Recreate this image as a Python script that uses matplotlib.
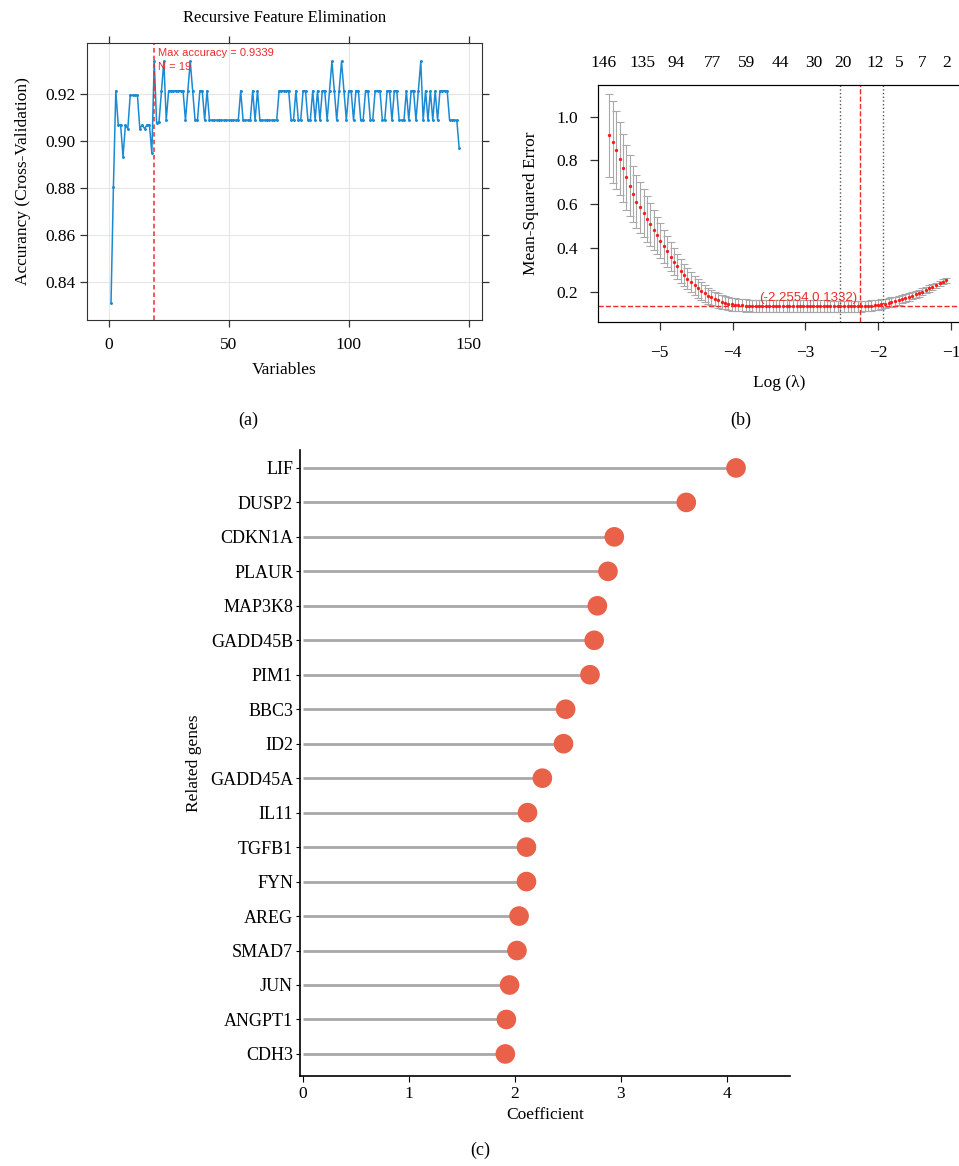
import numpy as np
import matplotlib.pyplot as plt

plt.rcParams['font.family'] = ['Liberation Serif', 'DejaVu Serif']
plt.rcParams['axes.unicode_minus'] = True

# ---------------- (a) recursive feature elimination ----------------
rfe_vars = list(range(1, 147))
rfe_acc = [
    0.8312, 0.8805, 0.9214, 0.9069, 0.9069, 0.8934, 0.9069, 0.9053, 0.9195, 0.9195,
    0.9195, 0.9195, 0.9053, 0.9069, 0.9053, 0.9069, 0.9069, 0.8948, 0.9339, 0.9075,
    0.9083, 0.9214, 0.9339, 0.9089, 0.9214, 0.9214, 0.9214, 0.9214, 0.9214, 0.9214,
    0.9214, 0.9089, 0.9214, 0.9339, 0.9214, 0.9089, 0.9089, 0.9214, 0.9214, 0.9089,
    0.9214, 0.9089, 0.9089, 0.9089, 0.9089, 0.9089, 0.9089, 0.9089, 0.9089, 0.9089,
    0.9089, 0.9089, 0.9089, 0.9089, 0.9214, 0.9089, 0.9089, 0.9089, 0.9089, 0.9214,
    0.9089, 0.9214, 0.9089, 0.9089, 0.9089, 0.9089, 0.9089, 0.9089, 0.9089, 0.9089,
    0.9214, 0.9214, 0.9214, 0.9214, 0.9214, 0.9089, 0.9089, 0.9214, 0.9089, 0.9089,
    0.9214, 0.9214, 0.9089, 0.9089, 0.9214, 0.9089, 0.9214, 0.9089, 0.9214, 0.9214,
    0.9089, 0.9214, 0.9339, 0.9214, 0.9089, 0.9214, 0.9339, 0.9214, 0.9089, 0.9214,
    0.9214, 0.9089, 0.9214, 0.9214, 0.9089, 0.9089, 0.9214, 0.9214, 0.9089, 0.9089,
    0.9214, 0.9214, 0.9214, 0.9089, 0.9089, 0.9214, 0.9214, 0.9089, 0.9214, 0.9214,
    0.9089, 0.9089, 0.9089, 0.9214, 0.9089, 0.9214, 0.9214, 0.9089, 0.9214, 0.9339,
    0.9089, 0.9214, 0.9089, 0.9214, 0.9089, 0.9214, 0.9089, 0.9214, 0.9214, 0.9214,
    0.9214, 0.9089, 0.9089, 0.9089, 0.9089, 0.8970,
]
best_n = 19
best_acc = 0.9339

# ---------------- (b) lasso cross-validation ----------------
log_lambda = [
    -5.69, -5.64, -5.60, -5.55, -5.50, -5.46, -5.41, -5.36, -5.32, -5.27,
    -5.22, -5.18, -5.13, -5.08, -5.04, -4.99, -4.94, -4.90, -4.85, -4.80,
    -4.76, -4.71, -4.66, -4.62, -4.57, -4.52, -4.48, -4.43, -4.38, -4.34,
    -4.29, -4.24, -4.20, -4.15, -4.10, -4.06, -4.01, -3.96, -3.92, -3.87,
    -3.82, -3.78, -3.73, -3.68, -3.64, -3.59, -3.54, -3.50, -3.45, -3.40,
    -3.36, -3.31, -3.26, -3.22, -3.17, -3.12, -3.08, -3.03, -2.98, -2.94,
    -2.89, -2.84, -2.80, -2.75, -2.70, -2.66, -2.61, -2.56, -2.52, -2.47,
    -2.42, -2.38, -2.33, -2.28, -2.24, -2.19, -2.14, -2.10, -2.05, -2.00,
    -1.96, -1.91, -1.86, -1.82, -1.77, -1.72, -1.68, -1.63, -1.58, -1.54,
    -1.49, -1.44, -1.40, -1.35, -1.30, -1.26, -1.21, -1.16, -1.12, -1.07,
]
cv_mse = [
    0.915, 0.885, 0.848, 0.807, 0.765, 0.723, 0.685, 0.647, 0.612, 0.586,
    0.560, 0.533, 0.508, 0.482, 0.458, 0.433, 0.408, 0.385, 0.360, 0.338,
    0.316, 0.296, 0.277, 0.260, 0.244, 0.229, 0.215, 0.203, 0.192, 0.182,
    0.174, 0.167, 0.160, 0.155, 0.150, 0.146, 0.143, 0.141, 0.139, 0.138,
    0.137, 0.137, 0.136, 0.136, 0.136, 0.136, 0.135, 0.135, 0.135, 0.135,
    0.135, 0.135, 0.135, 0.134, 0.134, 0.134, 0.134, 0.134, 0.134, 0.134,
    0.134, 0.134, 0.134, 0.134, 0.134, 0.1335, 0.1335, 0.1333, 0.1333, 0.1333,
    0.1333, 0.1332, 0.1332, 0.1332, 0.1335, 0.134, 0.135, 0.136, 0.138, 0.140,
    0.143, 0.146, 0.149, 0.153, 0.157, 0.161, 0.166, 0.171, 0.176, 0.182,
    0.188, 0.194, 0.201, 0.208, 0.215, 0.222, 0.230, 0.238, 0.245, 0.252,
]
cv_se = [
    0.190, 0.186, 0.178, 0.167, 0.157, 0.148, 0.140, 0.130, 0.122, 0.116,
    0.110, 0.104, 0.098, 0.091, 0.085, 0.080, 0.075, 0.070, 0.066, 0.062,
    0.058, 0.055, 0.052, 0.049, 0.046, 0.044, 0.042, 0.040, 0.038, 0.036,
    0.035, 0.034, 0.033, 0.032, 0.031, 0.030, 0.029, 0.029, 0.028, 0.028,
    0.028, 0.027, 0.027, 0.027, 0.027, 0.027, 0.027, 0.027, 0.026, 0.026,
    0.026, 0.026, 0.026, 0.026, 0.026, 0.026, 0.026, 0.026, 0.026, 0.026,
    0.026, 0.026, 0.026, 0.026, 0.026, 0.026, 0.026, 0.026, 0.026, 0.026,
    0.026, 0.025, 0.025, 0.025, 0.025, 0.024, 0.024, 0.024, 0.023, 0.023,
    0.022, 0.022, 0.021, 0.021, 0.020, 0.020, 0.019, 0.018, 0.018, 0.017,
    0.016, 0.016, 0.015, 0.014, 0.014, 0.013, 0.012, 0.012, 0.011, 0.010,
]
nz_pos = [-5.77, -5.23, -4.77, -4.27, -3.81, -3.35, -2.88, -2.49, -2.04, -1.71, -1.40, -1.07]
nz_labels = ['146', '135', '94', '77', '59', '44', '30', '20', '12', '5', '7', '2']
lambda_min = -2.53
lambda_1se = -1.93
best_loglam = -2.2554
best_mse = 0.1332

# ---------------- (c) coefficients of related genes ----------------
genes = ['LIF', 'DUSP2', 'CDKN1A', 'PLAUR', 'MAP3K8', 'GADD45B', 'PIM1', 'BBC3', 'ID2',
         'GADD45A', 'IL11', 'TGFB1', 'FYN', 'AREG', 'SMAD7', 'JUN', 'ANGPT1', 'CDH3']
coefs = [4.09, 3.62, 2.94, 2.88, 2.78, 2.75, 2.71, 2.48, 2.46,
         2.26, 2.12, 2.11, 2.11, 2.04, 2.02, 1.95, 1.92, 1.91]

RED = '#ee2b2b'
BLUE = '#1a8ad4'
W, H = 959, 1166


def box(l, t, r, b):
    # pixel box -> figure fraction
    return [l / W, 1 - b / H, (r - l) / W, (b - t) / H]


fig = plt.figure(figsize=(W / 100, H / 100), dpi=100)

# ---- (a)
ax1 = fig.add_axes(box(87, 43, 482, 320))
ax1.grid(color='#e6e6e6', lw=0.8)
ax1.set_axisbelow(True)
ax1.plot(rfe_vars, rfe_acc, color=BLUE, lw=1.1, marker='o', ms=1.1, mec=BLUE)
ax1.axvline(best_n, color=RED, ls=(0, (3, 2)), lw=1.1)
ax1.text(best_n + 1.5, 0.9375, f'Max accuracy = {best_acc}', color=RED, fontsize=8,
         family='Liberation Sans', va='center')
ax1.text(best_n + 1.5, 0.9315, f'N = {best_n}', color=RED, fontsize=8,
         family='Liberation Sans', va='center')
ax1.set_xlim(-9, 155.5)
ax1.set_ylim(0.824, 0.9417)
ax1.set_xticks([0, 50, 100, 150])
ax1.set_yticks([0.84, 0.86, 0.88, 0.90, 0.92])
ax1.set_yticklabels(['0.84', '0.86', '0.88', '0.90', '0.92'])
ax1.tick_params(direction='out', top=True, right=True, length=5, width=0.9,
                labelsize=12.5, color='#333333')
ax1.tick_params(axis='x', pad=7)
for s in ax1.spines.values():
    s.set_color('#333333')
ax1.set_title('Recursive Feature Elimination', fontsize=12, pad=15)
ax1.set_xlabel('Variables', fontsize=12.5, labelpad=7)
ax1.set_ylabel('Accurancy (Cross-Validation)', fontsize=12.5, labelpad=10)

# ---- (b)
ax2 = fig.add_axes(box(597.7, 85, 960, 321.7))
ax2.errorbar(log_lambda, cv_mse, yerr=cv_se, fmt='none', ecolor='#a9a9a9',
             elinewidth=0.8, capsize=3, capthick=0.8)
ax2.plot(log_lambda, cv_mse, 'o', color='#ff1a1a', ms=2.4, mec='none', zorder=3)
ax2.axvline(lambda_min, color='#555555', ls=':', lw=1)
ax2.axvline(lambda_1se, color='#555555', ls=':', lw=1)
ax2.axvline(best_loglam, color=RED, ls='--', lw=1)
ax2.axhline(best_mse, color=RED, ls='--', lw=1)
ax2.text(best_loglam - 0.03, best_mse + 0.04, f'({best_loglam},{best_mse})',
         color=RED, fontsize=9.5, family='Liberation Sans', ha='right', va='center')
ax2.set_xlim(-5.85, -0.88)
ax2.set_ylim(0.063, 1.145)
ax2.set_xticks([-5, -4, -3, -2, -1])
ax2.set_yticks([0.2, 0.4, 0.6, 0.8, 1.0])
ax2.set_yticklabels(['0.2', '0.4', '0.6', '0.8', '1.0'])
ax2.tick_params(direction='out', length=6, width=0.9, labelsize=12.5, pad=8,
                color='#333333')
ax2.tick_params(axis='x', pad=11)
for s in ax2.spines.values():
    s.set_color('#333333')
ax2.set_xlabel('Log (λ)', fontsize=12.5, labelpad=10)
ax2.set_ylabel('Mean-Squared Error', fontsize=12.5, labelpad=13)
ax2t = ax2.twiny()
ax2t.set_xlim(ax2.get_xlim())
ax2t.set_xticks(nz_pos)
ax2t.set_xticklabels(nz_labels)
ax2t.tick_params(length=0, labelsize=12.5, pad=10)

# ---- (c)
ax3 = fig.add_axes(box(300, 450, 790, 1076))
ypos = np.arange(len(genes))[::-1]
ax3.hlines(ypos, 0, coefs, color='#a8a8a8', lw=2, zorder=2)
ax3.scatter(coefs, ypos, s=200, color='#ea6149', edgecolors='none', zorder=3)
ax3.set_yticks(ypos)
ax3.set_yticklabels(genes)
ax3.set_xticks([0, 1, 2, 3, 4])
ax3.set_xlim(-0.03, 4.6)
ax3.set_ylim(-0.64, 17.52)
ax3.spines['top'].set_visible(False)
ax3.spines['right'].set_visible(False)
ax3.spines['left'].set_linewidth(1.2)
ax3.spines['bottom'].set_linewidth(1.2)
ax3.tick_params(axis='y', length=3, labelsize=13, pad=2)
ax3.tick_params(axis='x', length=4, labelsize=12.5, pad=3)
ax3.set_xlabel('Coefficient', fontsize=12.5, labelpad=4)
ax3.set_ylabel('Related genes', fontsize=12.5, labelpad=6)

fig.text(248 / W, 1 - 420 / H, '(a)', fontsize=13, ha='center', va='center')
fig.text(741 / W, 1 - 420 / H, '(b)', fontsize=13, ha='center', va='center')
fig.text(480 / W, 1 - 1150 / H, '(c)', fontsize=13, ha='center', va='center')

fig.savefig('out.png', dpi=100)
